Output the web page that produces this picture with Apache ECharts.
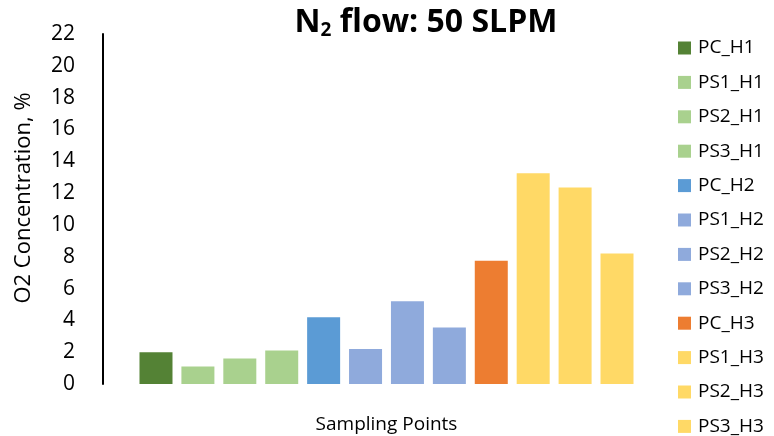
<!DOCTYPE html>
<html><head><meta charset="utf-8">
<script src="https://cdn.jsdelivr.net/npm/echarts@6/dist/echarts.min.js"></script>
<style>html,body{margin:0;padding:0;background:#fff}#c{width:774px;height:436px}</style>
</head><body><div id="c"></div>
<script>
const seriesNames = ['PC_H1','PS1_H1','PS2_H1','PS3_H1','PC_H2','PS1_H2','PS2_H2','PS3_H2','PC_H3','PS1_H3','PS2_H3','PS3_H3'];
const values = [2.0, 1.1, 1.6, 2.1, 4.2, 2.2, 5.2, 3.55, 7.75, 13.25, 12.35, 8.2];
const colors = ['#548235','#A9D18E','#A9D18E','#A9D18E','#5B9BD5','#8FAADC','#8FAADC','#8FAADC','#ED7D31','#FFD966','#FFD966','#FFD966'];
const categories = [''];
const font = 'Open Sans';
const chart = echarts.init(document.getElementById('c'));
chart.setOption({
  animation: false,
  title: {
    text: '{b|N}{s|2}{b| flow: 50 SLPM}',
    left: 421, top: 1, textAlign: 'center',
    textStyle: { rich: {
      b: { fontFamily: font, fontWeight: 'bold', fontSize: 32, color: '#000' },
      s: { fontFamily: font, fontWeight: 'bold', fontSize: 19, color: '#000', verticalAlign: 'bottom', padding: [15,0,0,0] }
    } }
  },
  legend: {
    orient: 'vertical', left: 673, top: 33, height: 420,
    itemWidth: 13, itemHeight: 13, itemGap: 14.4,
    icon: 'rect',
    textStyle: { fontFamily: font, fontSize: 19, color: '#000', lineHeight: 20, padding: [0,0,0,2] },
    data: seriesNames
  },
  grid: { left: 103, right: 104, top: 34, bottom: 52, containLabel: false, outerBoundsMode: 'none' },
  xAxis: {
    type: 'category', data: categories,
    axisLine: { show: false }, axisTick: { show: false }, axisLabel: { show: false },
    name: 'Sampling Points', nameLocation: 'middle', nameGap: 31,
    nameTextStyle: { fontFamily: font, fontSize: 19, color: '#000' }
  },
  yAxis: {
    type: 'value', min: 0, max: 22, interval: 2,
    axisLine: { show: true, lineStyle: { color: '#000', width: 2 } },
    axisTick: { show: false }, splitLine: { show: false },
    axisLabel: { fontFamily: font, fontSize: 21, color: '#000', margin: 28 },
    name: 'O2 Concentration, %', nameLocation: 'middle', nameGap: 68,
    nameTextStyle: { fontFamily: font, fontSize: 22, color: '#000', padding: [0,0,0,22] }
  },
  series: seriesNames.map((n, i) => ({
    name: n, type: 'bar', data: [values[i]], barWidth: 33, barGap: '27%',
    itemStyle: { color: colors[i] }
  }))
});
</script></body></html>
